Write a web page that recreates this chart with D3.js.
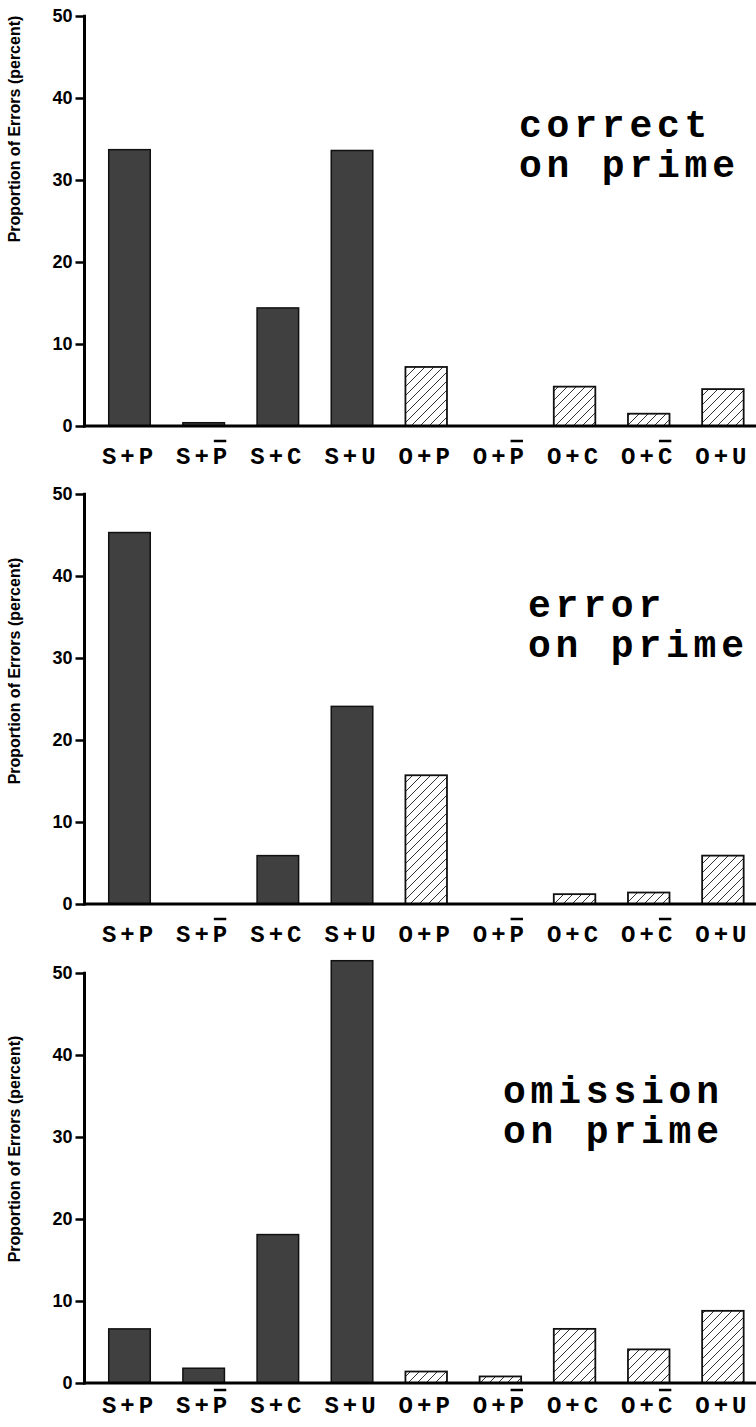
<!DOCTYPE html>
<html>
<head>
    <meta charset="utf-8">
    <title>Proportion of Errors</title>
    <script src="https://d3js.org/d3.v7.min.js"></script>
    <style>
        body { margin: 0; background: #fff; }
        .ylab { font-family: Arial, "Liberation Sans", sans-serif; font-weight: bold; }
        .mono { font-family: "Courier New", "Liberation Mono", monospace; font-weight: bold; }
    </style>
</head>
<body>
<svg width="756" height="1427"></svg>
<script>
    // categories (overline on last letter where flagged)
    var categories = ["S+P", "S+P", "S+C", "S+U", "O+P", "O+P", "O+C", "O+C", "O+U"];
    var overlined  = [false, true, false, false, false, true, false, true, false];
    var kinds      = ["S", "S", "S", "S", "O", "O", "O", "O", "O"];

    // percent values per panel
    var correctOnPrime  = [33.7, 0.4, 14.4, 33.6, 7.2, 0, 4.8, 1.5, 4.5];
    var errorOnPrime    = [45.3, 0, 5.9, 24.1, 15.7, 0, 1.2, 1.4, 5.9];
    var omissionOnPrime = [6.6, 1.8, 18.1, 51.5, 1.4, 0.8, 6.6, 4.1, 8.8];

    var panelTitles = [["correct", "on prime"], ["error", "on prime"], ["omission", "on prime"]];
    var yTicks = [0, 10, 20, 30, 40, 50];
    var yTitle = "Proportion of Errors (percent)";

    var panels = [correctOnPrime, errorOnPrime, omissionOnPrime];

    var svg = d3.select("svg");

    // hatch for the O+ bars
    var defs = svg.append("defs");
    defs.append("pattern")
        .attr("id", "hatch")
        .attr("patternUnits", "userSpaceOnUse")
        .attr("width", 9).attr("height", 9)
        .call(function(p) {
            p.append("rect").attr("width", 9).attr("height", 9).attr("fill", "#fff");
            p.append("path")
                .attr("d", "M0,9 L9,0 M-2,2 L2,-2 M7,11 L11,7")
                .attr("stroke", "#000")
                .attr("stroke-width", 0.8);
        });

    // layout per panel: top of the axis (50), label centre, title spot, x-label offset
    var layout = [
        { top: 16,  labelMid: 129,  titleX: 519, titleY: 137,  labDy: 38 },
        { top: 494, labelMid: 671,  titleX: 528, titleY: 617,  labDy: 38 },
        { top: 973, labelMid: 1149, titleX: 503, titleY: 1103, labDy: 30 }
    ];
    var plotH = 410;

    var x = d3.scaleBand()
        .domain(d3.range(categories.length))
        .range([92.4, 760])
        .paddingInner(0.44)
        .paddingOuter(0.22);

    panels.forEach(function(values, pi) {
        var L = layout[pi];
        var y = d3.scaleLinear().domain([0, 50]).range([L.top + plotH, L.top]);
        var g = svg.append("g");

        // bars
        g.selectAll("rect.bar")
            .data(values)
            .enter().append("rect")
            .attr("class", "bar")
            .attr("x", function(d, i) { return x(i); })
            .attr("width", x.bandwidth())
            .attr("y", function(d) { return y(d); })
            .attr("height", function(d) { return y(0) - y(d); })
            .attr("fill", function(d, i) { return kinds[i] == "S" ? "#404040" : "url(#hatch)"; })
            .attr("stroke", "#111")
            .attr("stroke-width", function(d, i) { return kinds[i] == "S" ? 1.5 : 1.8; })
            .style("display", function(d) { return d > 0 ? null : "none"; });

        // y axis
        var ax = g.append("g")
            .attr("transform", "translate(84.5,0)")
            .call(d3.axisLeft(y).tickValues(yTicks).tickSize(9).tickPadding(3));
        ax.select(".domain").remove();
        ax.selectAll(".tick line").attr("stroke", "#000").attr("stroke-width", 2.5);
        ax.selectAll(".tick text")
            .attr("class", "ylab")
            .style("font-size", "18px")
            .attr("fill", "#000");

        g.append("line")
            .attr("x1", 84.5).attr("x2", 84.5)
            .attr("y1", y(50) - 1.2).attr("y2", y(0) + 1.5)
            .attr("stroke", "#000").attr("stroke-width", 3);
        g.append("line")
            .attr("x1", 83).attr("x2", 756)
            .attr("y1", y(0)).attr("y2", y(0))
            .attr("stroke", "#000").attr("stroke-width", 3);

        // y title
        g.append("text")
            .attr("class", "ylab")
            .attr("transform", "translate(20," + L.labelMid + ") rotate(-90)")
            .attr("text-anchor", "middle")
            .style("font-size", "16px")
            .text(yTitle);

        // x labels with overlines
        categories.forEach(function(c, i) {
            var t = g.append("text")
                .attr("class", "mono")
                .attr("x", x(i) + x.bandwidth() / 2)
                .attr("y", y(0) + L.labDy)
                .attr("text-anchor", "middle")
                .style("font-size", "24px")
                .style("letter-spacing", "4px")
                .text(c);
            if (overlined[i]) {
                var ext = t.node().getExtentOfChar(c.length - 1);
                g.append("line")
                    .attr("x1", ext.x + 1).attr("x2", ext.x + ext.width - 5)
                    .attr("y1", y(0) + L.labDy - 23).attr("y2", y(0) + L.labDy - 23)
                    .attr("stroke", "#000").attr("stroke-width", 2.5);
            }
        });

        // panel title, two lines in one text
        var tt = g.append("text")
            .attr("class", "mono")
            .attr("x", L.titleX)
            .attr("y", L.titleY)
            .style("font-size", "38px")
            .style("letter-spacing", "4.8px");
        panelTitles[pi].forEach(function(line, k) {
            tt.append("tspan")
                .attr("x", L.titleX)
                .attr("dy", k == 0 ? 0 : 40)
                .text(line);
        });
    });
</script>
</body>
</html>
